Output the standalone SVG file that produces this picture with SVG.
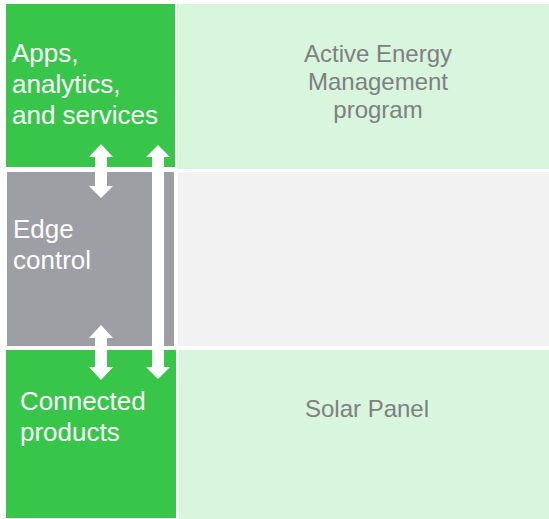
<svg xmlns="http://www.w3.org/2000/svg" width="549" height="519" viewBox="0 0 549 519">
<style>
.g{fill:#37c64a}
.lg{fill:#d8f5de}
.gr{fill:#9e9fa4}
.lgr{fill:#f2f2f2}
.wt{font-family:"Liberation Sans",Arial,sans-serif;font-size:26px;fill:#ffffff}
.dt{font-family:"Liberation Sans",Arial,sans-serif;font-size:24px;fill:#808080;text-anchor:middle}
.arr{fill:#ffffff}
</style>
<rect width="549" height="519" fill="#ffffff"/>
<g id="apps">
<rect class="g" x="6" y="4" width="169" height="163"/>
<text class="wt"><tspan x="12" y="62">Apps,</tspan><tspan x="12" y="93">analytics,</tspan><tspan x="12" y="124">and services</tspan></text>
</g>
<g id="aem">
<rect class="lg" x="177" y="4" width="372" height="165"/>
<text class="dt"><tspan x="378" y="62">Active Energy</tspan><tspan x="378" y="90">Management</tspan><tspan x="378" y="118">program</tspan></text>
</g>
<g id="edge">
<rect class="gr" x="7" y="172" width="167" height="174"/>
<text class="wt"><tspan x="13" y="238">Edge</tspan><tspan x="13" y="269">control</tspan></text>
</g>
<g id="edge-right">
<rect class="lgr" x="178" y="172" width="371" height="174"/>
</g>
<g id="connected">
<rect class="g" x="6" y="350" width="170" height="168"/>
<text class="wt"><tspan x="20" y="410">Connected</tspan><tspan x="20" y="441">products</tspan></text>
</g>
<g id="solar">
<rect class="lg" x="179" y="350" width="370" height="169"/>
<text class="dt" x="367" y="417">Solar Panel</text>
</g>
<g id="connectors">
<polygon class="arr" points="101,144 113,157 107,157 107,186 113,186 101,198 89,186 95,186 95,157 89,157"/>
<polygon class="arr" points="101,325 113,338 107,338 107,367 113,367 101,380 89,367 95,367 95,338 89,338"/>
<polygon class="arr" points="158,145 170,157 164,157 164,367 170,367 158,379 146,367 152,367 152,157 146,157"/>
</g>
</svg>
